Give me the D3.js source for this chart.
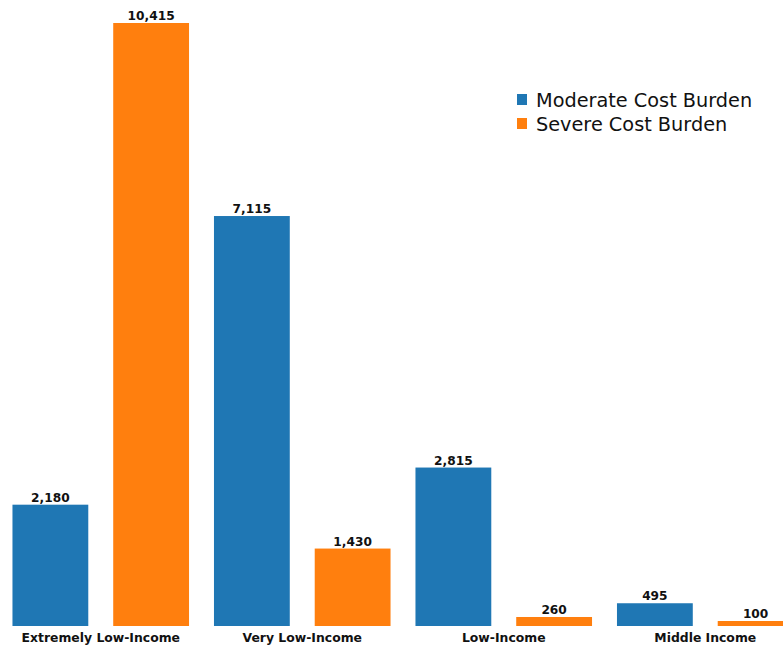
<!DOCTYPE html>
<html>
<head>
<meta charset="utf-8">
<script src="https://cdn.jsdelivr.net/npm/d3@7"></script>
<style>
  html, body { margin: 0; padding: 0; background: #fff; }
  svg { display: block; }
</style>
</head>
<body>
<svg id="chart" width="783" height="647"></svg>
<script>
const categories = ["Extremely Low-Income", "Very Low-Income", "Low-Income", "Middle Income"];
const seriesNames = ["Moderate Cost Burden", "Severe Cost Burden"];
const moderate = [2180, 7115, 2815, 495];
const severe = [10415, 1430, 260, 100];
const colors = ["#1f77b4", "#ff7f0e"];

const seriesValues = [moderate, severe];
const data = categories.map((c, i) => ({
  category: c,
  values: seriesNames.map((s, j) => ({ series: s, value: seriesValues[j][i] }))
}));

const svg = d3.select("#chart");
const baseline = 626;
const topY = 23;

const x0 = d3.scaleBand().domain(categories).range([0, 806]).paddingInner(0).paddingOuter(0);
const x1 = d3.scaleBand().domain(seriesNames).range([0, x0.bandwidth()])
  .paddingInner(0.2475).paddingOuter(0.12375);
const y = d3.scaleLinear().domain([106, d3.max(severe.concat(moderate))]).range([baseline, topY]);
const color = d3.scaleOrdinal().domain(seriesNames).range(colors);
const minH = 5;

const groups = svg.selectAll("g.group").data(data).join("g")
  .attr("class", "group")
  .attr("transform", d => `translate(${x0(d.category)},0)`);

groups.selectAll("rect").data(d => d.values).join("rect")
  .attr("x", d => x1(d.series))
  .attr("width", x1.bandwidth())
  .attr("y", d => Math.min(y(d.value), baseline - minH))
  .attr("height", d => Math.max(baseline - y(d.value), minH))
  .attr("fill", d => color(d.series));

groups.selectAll("text.val").data(d => d.values).join("text")
  .attr("class", "val")
  .attr("x", d => x1(d.series) + x1.bandwidth() / 2)
  .attr("y", d => Math.min(y(d.value), baseline - minH) - 3)
  .attr("text-anchor", "middle")
  .attr("font-family", "'DejaVu Sans', Verdana, sans-serif")
  .attr("font-weight", "bold")
  .attr("font-size", "12.2px")
  .attr("fill", "#111")
  .text(d => d3.format(",")(d.value));

// category axis labels
const xAxis = d3.axisBottom(x0).tickSize(0).tickPadding(0);
const axisG = svg.append("g").attr("transform", `translate(0,${baseline})`).call(xAxis);
axisG.select(".domain").remove();
axisG.selectAll("text")
  .attr("y", 16)
  .attr("dy", 0)
  .attr("font-family", "'DejaVu Sans', Verdana, sans-serif")
  .attr("font-weight", "bold")
  .attr("font-size", "12.4px")
  .attr("fill", "#111");

// legend
const legend = svg.append("g").attr("transform", "translate(517,94)");
const items = legend.selectAll("g").data(seriesNames).join("g")
  .attr("transform", (d, i) => `translate(0,${i * 24})`);
items.append("rect").attr("width", 10).attr("height", 11).attr("fill", d => color(d));
items.append("text")
  .attr("x", 19).attr("y", 13)
  .attr("font-family", "'DejaVu Sans', Verdana, sans-serif")
  .attr("font-size", "19.3px")
  .attr("fill", "#111")
  .text(d => d);
</script>
</body>
</html>
